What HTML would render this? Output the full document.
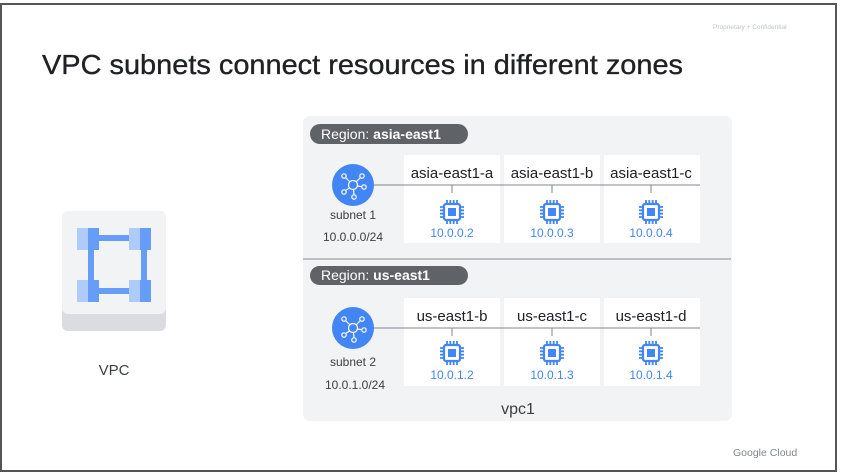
<!DOCTYPE html>
<html><head><style>
html,body{margin:0;padding:0;background:#fff;}
svg{display:block;font-family:"Liberation Sans",sans-serif;}
</style></head><body>
<svg width="841" height="476" viewBox="0 0 841 476" xmlns="http://www.w3.org/2000/svg">
<defs>
<g id="chip">
 <rect x="-8" y="-8" width="16" height="16" rx="2" fill="none" stroke="#4285f4" stroke-width="2.2"/>
 <rect x="-4" y="-4" width="8" height="8" fill="#4285f4"/>
 <path d="M-5 -9v-3M-1.7 -9v-3M1.7 -9v-3M5 -9v-3M-5 9v3M-1.7 9v3M1.7 9v3M5 9v3M-9 -5h-3M-9 -1.7h-3M-9 1.7h-3M-9 5h-3M9 -5h3M9 -1.7h3M9 1.7h3M9 5h3" stroke="#4285f4" stroke-width="1.8"/>
</g>
<g id="net">
 <circle r="21" fill="#4285f4"/>
 <g fill="none" stroke="#fff" stroke-width="1.2">
  <circle r="4.5"/>
  <circle cx="-9" cy="-9" r="2.2"/><circle cx="9" cy="-9" r="2.2"/><circle cx="-9" cy="7" r="2.2"/><circle cx="1" cy="12" r="2.2"/><circle cx="11" cy="2" r="2.2"/>
  <path d="M-3 -3L-7.5 -7.5M3 -3L7.5 -7.5M-3.5 3L-7.5 5.5M0.5 4.5L1 9.8M4.5 1L8.8 1.7"/>
 </g>
</g>
</defs>
<rect width="841" height="476" fill="#fff"/>
<rect x="1" y="4" width="835" height="467" fill="none" stroke="#555" stroke-width="2"/>
<text x="713" y="29" font-size="6.5" fill="#c0c4cc">Proprietary + Confidential</text>
<text x="42" y="74" font-size="28" fill="#202124" stroke="#202124" stroke-width="0.35" textLength="641" lengthAdjust="spacingAndGlyphs">VPC subnets connect resources in different zones</text>
<rect x="62" y="211" width="104" height="120" rx="6" fill="#dadce0"/>
<rect x="62" y="211" width="104" height="103" rx="6" fill="#f1f3f4"/>
<g>
 <rect x="88" y="235" width="62" height="6" fill="#669df6"/>
 <rect x="88" y="288" width="62" height="6" fill="#669df6"/>
 <rect x="88" y="235" width="6" height="59" fill="#669df6"/>
 <rect x="141" y="235" width="6" height="59" fill="#669df6"/>
 <rect x="77" y="228" width="11" height="22" fill="#aecbfa"/><rect x="88" y="228" width="11" height="22" fill="#669df6"/>
 <rect x="129" y="228" width="11" height="22" fill="#aecbfa"/><rect x="140" y="228" width="11" height="22" fill="#669df6"/>
 <rect x="77" y="280" width="11" height="22" fill="#aecbfa"/><rect x="88" y="280" width="11" height="22" fill="#669df6"/>
 <rect x="129" y="280" width="11" height="22" fill="#aecbfa"/><rect x="140" y="280" width="11" height="22" fill="#669df6"/>
</g>
<text x="114" y="375" font-size="15" fill="#3c4043" text-anchor="middle">VPC</text>
<rect x="303" y="116" width="429" height="305" rx="7" fill="#f1f3f4"/>
<line x1="303" y1="259" x2="731" y2="259" stroke="#9aa0a6" stroke-width="1.2"/>
<rect x="310" y="124" width="158" height="20" rx="10" fill="#5f6368"/>
<text x="321" y="139" font-size="14" fill="#fff">Region: <tspan font-weight="bold">asia-east1</tspan></text>
<rect x="404" y="155" width="96" height="88" fill="#fff"/>
<rect x="504" y="155" width="96" height="88" fill="#fff"/>
<rect x="604" y="155" width="96" height="88" fill="#fff"/>
<line x1="370" y1="185" x2="700" y2="185" stroke="#80868b" stroke-width="1"/>
<path d="M452 185v8M552 185v8M651 185v8" stroke="#80868b" stroke-width="1"/>
<use href="#net" x="353" y="185"/>
<text x="452" y="178" font-size="15" fill="#202124" text-anchor="middle">asia-east1-a</text>
<text x="552" y="178" font-size="15" fill="#202124" text-anchor="middle">asia-east1-b</text>
<text x="651" y="178" font-size="15" fill="#202124" text-anchor="middle">asia-east1-c</text>
<use href="#chip" x="452" y="212"/><use href="#chip" x="552" y="212"/><use href="#chip" x="651" y="212"/>
<text x="452" y="237" font-size="12" fill="#4285f4" text-anchor="middle">10.0.0.2</text>
<text x="552" y="237" font-size="12" fill="#4285f4" text-anchor="middle">10.0.0.3</text>
<text x="651" y="237" font-size="12" fill="#4285f4" text-anchor="middle">10.0.0.4</text>
<text x="353" y="219" font-size="12" fill="#3c4043" text-anchor="middle">subnet 1</text>
<text x="353" y="241" font-size="12" fill="#3c4043" text-anchor="middle">10.0.0.0/24</text>
<rect x="310" y="266" width="158" height="19" rx="9.5" fill="#5f6368"/>
<text x="321" y="280" font-size="14" fill="#fff">Region: <tspan font-weight="bold">us-east1</tspan></text>
<rect x="404" y="298" width="96" height="88" fill="#fff"/>
<rect x="504" y="298" width="96" height="88" fill="#fff"/>
<rect x="604" y="298" width="96" height="88" fill="#fff"/>
<line x1="370" y1="328" x2="700" y2="328" stroke="#80868b" stroke-width="1"/>
<path d="M452 328v8M552 328v8M651 328v8" stroke="#80868b" stroke-width="1"/>
<use href="#net" x="353" y="328"/>
<text x="452" y="321" font-size="15" fill="#202124" text-anchor="middle">us-east1-b</text>
<text x="552" y="321" font-size="15" fill="#202124" text-anchor="middle">us-east1-c</text>
<text x="651" y="321" font-size="15" fill="#202124" text-anchor="middle">us-east1-d</text>
<use href="#chip" x="452" y="353"/><use href="#chip" x="552" y="353"/><use href="#chip" x="651" y="353"/>
<text x="452" y="379" font-size="12" fill="#4285f4" text-anchor="middle">10.0.1.2</text>
<text x="552" y="379" font-size="12" fill="#4285f4" text-anchor="middle">10.0.1.3</text>
<text x="651" y="379" font-size="12" fill="#4285f4" text-anchor="middle">10.0.1.4</text>
<text x="353" y="366" font-size="12" fill="#3c4043" text-anchor="middle">subnet 2</text>
<text x="355" y="389" font-size="12" fill="#3c4043" text-anchor="middle">10.0.1.0/24</text>
<text x="518" y="414" font-size="16" fill="#3c4043" text-anchor="middle">vpc1</text>
<text x="733" y="456" font-size="10.5" fill="#80868b">Google Cloud</text>
</svg>
</body></html>
